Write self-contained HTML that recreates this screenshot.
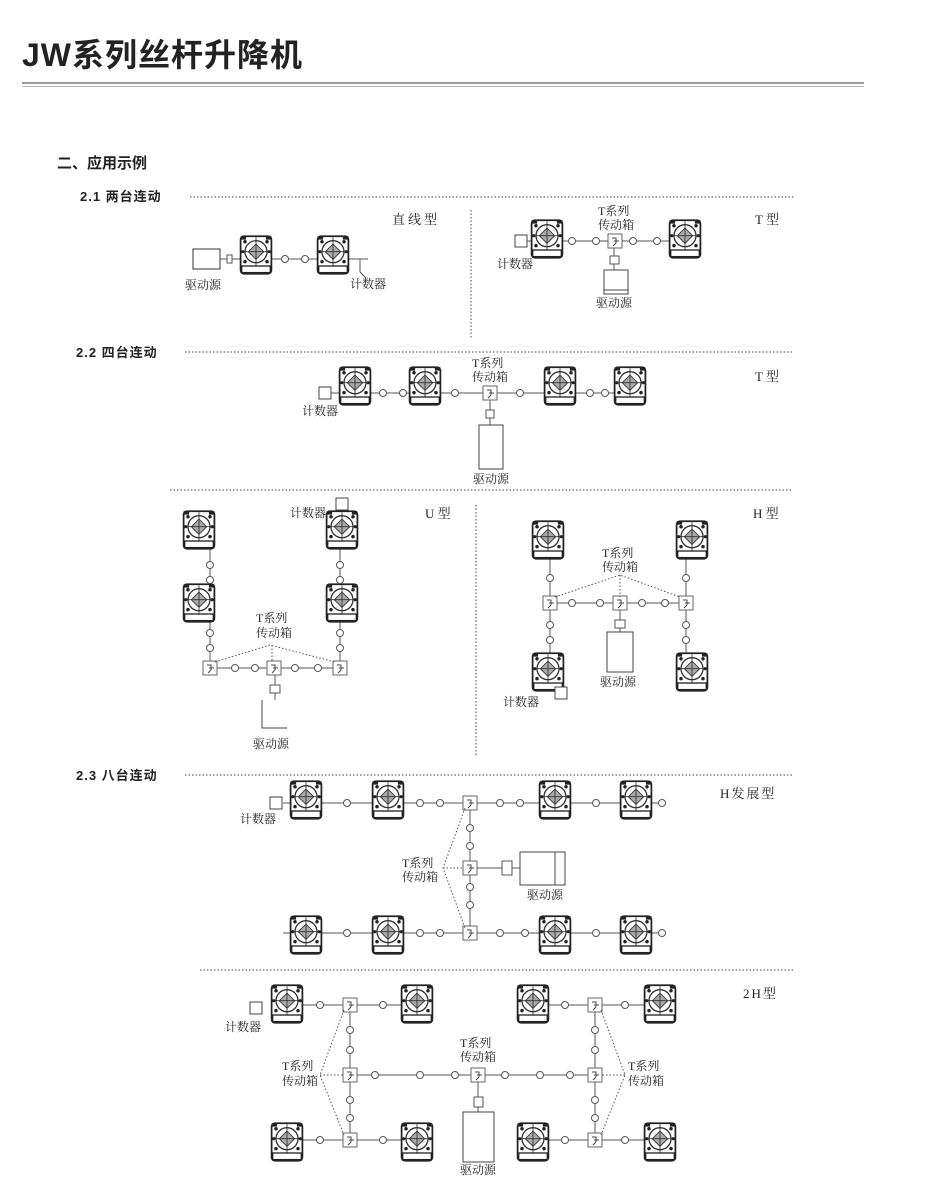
<!DOCTYPE html>
<html><head><meta charset="utf-8"><style>
html,body{margin:0;padding:0;background:#fff;}
svg text{font-family:"Liberation Serif","Noto Serif CJK SC",serif;fill:#222;}
svg .h, svg .h text{font-family:"Liberation Sans","Noto Sans CJK SC",sans-serif;font-weight:bold;}
</style></head><body>
<svg width="930" height="1183" viewBox="0 0 930 1183" xmlns="http://www.w3.org/2000/svg">
<defs>
<g id="L" transform="scale(1.1)">
<rect x="-14" y="-17" width="28" height="34" rx="3" fill="#fff" stroke="#222" stroke-width="1.6"/>
<circle cx="0" cy="-3" r="10" fill="none" stroke="#333" stroke-width="1.2"/>
<path d="M0,-10 L7,-3 L0,4 L-7,-3Z" fill="#aaa" stroke="#333" stroke-width="0.8"/>
<path d="M-13,-3 H13 M0,-16 V10" stroke="#333" stroke-width="0.8"/>
<circle cx="-10" cy="-12" r="1.6" fill="#222"/><circle cx="10" cy="-12" r="1.6" fill="#222"/>
<circle cx="-10" cy="6" r="1.6" fill="#222"/><circle cx="10" cy="6" r="1.6" fill="#222"/>
<circle cx="-12" cy="-3" r="1.4" fill="#222"/><circle cx="12" cy="-3" r="1.4" fill="#222"/>
<rect x="-13" y="10" width="26" height="6" fill="none" stroke="#222" stroke-width="1.2"/>
<path d="M-14,-17 h5 v3 h-5z M14,-17 h-5 v3 h5z" fill="#222"/>
</g>
<g id="c"><circle r="3.5" fill="#fff" stroke="#555" stroke-width="1"/></g>
<g id="B"><rect x="-7" y="-7" width="14" height="14" fill="#fff" stroke="#666" stroke-width="1"/><path d="M-3,-3 h4 v5 M1,2 l-3,3 M-1,0 h5" stroke="#444" stroke-width="1" fill="none"/></g>
<g id="K"><rect x="-6" y="-6" width="12" height="12" fill="#fff" stroke="#444" stroke-width="1"/></g>
</defs>

<text x="22" y="66" class="h" font-size="32" letter-spacing="1">JW系列丝杆升降机</text>
<rect x="22" y="82" width="842" height="2" fill="#999"/>
<rect x="22" y="86" width="842" height="1" fill="#bbb"/>
<text x="57" y="168" class="h" font-size="15">二、应用示例</text>

<g stroke="#444" stroke-width="1" stroke-dasharray="1.5,2" fill="none">
<path d="M190,197 H795"/><path d="M471,210 V338"/>
<path d="M185,352 H793"/><path d="M170,490 H793"/><path d="M476,505 V757"/>
<path d="M185,775 H793"/><path d="M200,970 H793"/>
</g>
<g class="h" font-size="13">
<text class="h" x="80" y="201" letter-spacing="1">2.1 两台连动</text>
<text class="h" x="76" y="357" letter-spacing="1">2.2 四台连动</text>
<text class="h" x="76" y="780" letter-spacing="1">2.3 八台连动</text>
</g>

<!-- 2.1 linear -->
<g stroke="#555" stroke-width="1" fill="none">
<path d="M220,259 H360 V272 M360,259 h8"/>
</g>
<rect x="193" y="249" width="27" height="20" fill="#fff" stroke="#333"/>
<rect x="227" y="255" width="5" height="8" fill="#fff" stroke="#555"/>
<use href="#L" x="256" y="255"/><use href="#L" x="333" y="255"/>
<use href="#c" x="285" y="259"/><use href="#c" x="305" y="259"/>
<path d="M360,272 l6,6" stroke="#444"/>
<text x="185" y="289" font-size="12">驱动源</text>
<text x="350" y="288" font-size="12">计数器</text>
<text x="392" y="224" font-size="13" letter-spacing="3">直线型</text>

<!-- 2.1 T -->
<path d="M527,241 H672 M614,241 V272" stroke="#555" fill="none"/>
<use href="#L" x="547" y="239"/><use href="#L" x="685" y="239"/>
<use href="#c" x="572" y="241"/><use href="#c" x="596" y="241"/><use href="#c" x="633" y="241"/><use href="#c" x="657" y="241"/>
<use href="#B" x="615" y="241"/><use href="#K" x="521" y="241"/>
<rect x="610" y="256" width="9" height="8" fill="#fff" stroke="#555"/>
<rect x="604" y="270" width="24" height="24" fill="#fff" stroke="#444"/><path d="M604,290 h24" stroke="#444"/>
<text x="598" y="215" font-size="12">T系列</text><text x="598" y="229" font-size="12">传动箱</text>
<text x="497" y="268" font-size="12">计数器</text><text x="596" y="307" font-size="12">驱动源</text>
<text x="755" y="224" font-size="13">T 型</text>

<!-- 2.2 -->
<path d="M323,393 H630 M490,393 V425" stroke="#555" fill="none"/>
<use href="#L" x="355" y="386"/><use href="#L" x="425" y="386"/><use href="#L" x="560" y="386"/><use href="#L" x="630" y="386"/>
<use href="#c" x="383" y="393"/><use href="#c" x="403" y="393"/><use href="#c" x="455" y="393"/><use href="#c" x="520" y="393"/><use href="#c" x="590" y="393"/><use href="#c" x="605" y="393"/>
<use href="#B" x="490" y="393"/><use href="#K" x="325" y="393"/>
<rect x="486" y="410" width="8" height="8" fill="#fff" stroke="#555"/>
<rect x="479" y="425" width="24" height="44" fill="#fff" stroke="#444"/>
<text x="472" y="367" font-size="12">T系列</text><text x="472" y="381" font-size="12">传动箱</text>
<text x="302" y="415" font-size="12">计数器</text><text x="473" y="483" font-size="12">驱动源</text>
<text x="755" y="381" font-size="13">T 型</text>

<!-- U -->
<path d="M210,545 V668 H340 V504 M275,668 V700" stroke="#555" fill="none"/>
<use href="#L" x="199" y="530"/><use href="#L" x="199" y="603"/><use href="#L" x="342" y="530"/><use href="#L" x="342" y="603"/>
<use href="#c" x="210" y="565"/><use href="#c" x="210" y="580"/><use href="#c" x="210" y="633"/><use href="#c" x="210" y="648"/>
<use href="#c" x="340" y="565"/><use href="#c" x="340" y="580"/><use href="#c" x="340" y="633"/><use href="#c" x="340" y="648"/>
<use href="#c" x="235" y="668"/><use href="#c" x="255" y="668"/><use href="#c" x="295" y="668"/><use href="#c" x="318" y="668"/>
<use href="#B" x="210" y="668"/><use href="#B" x="274" y="668"/><use href="#B" x="340" y="668"/><use href="#K" x="342" y="504"/>
<path d="M215,662 L270,645 L335,662 M272,645 V662" stroke="#555" stroke-dasharray="1.5,2" fill="none"/>
<rect x="270" y="685" width="10" height="8" fill="#fff" stroke="#555"/>
<path d="M262,700 V728 H287" stroke="#444" fill="none"/>
<text x="256" y="622" font-size="12">T系列</text><text x="256" y="637" font-size="12">传动箱</text>
<text x="290" y="517" font-size="12">计数器</text><text x="253" y="748" font-size="12">驱动源</text>
<text x="425" y="518" font-size="13">U 型</text>

<!-- H -->
<path d="M550,555 V660 M686,555 V660 M550,603 H686 M620,603 V632 M560,690 V686" stroke="#555" fill="none"/>
<use href="#L" x="548" y="540"/><use href="#L" x="692" y="540"/><use href="#L" x="548" y="672"/><use href="#L" x="692" y="672"/>
<use href="#c" x="550" y="578"/><use href="#c" x="550" y="625"/><use href="#c" x="550" y="640"/><use href="#c" x="686" y="578"/><use href="#c" x="686" y="625"/><use href="#c" x="686" y="640"/>
<use href="#c" x="572" y="603"/><use href="#c" x="600" y="603"/><use href="#c" x="642" y="603"/><use href="#c" x="665" y="603"/>
<use href="#B" x="550" y="603"/><use href="#B" x="620" y="603"/><use href="#B" x="686" y="603"/><use href="#K" x="561" y="693"/>
<path d="M555,597 L620,575 L680,597 M620,575 V597" stroke="#555" stroke-dasharray="1.5,2" fill="none"/>
<rect x="615" y="620" width="10" height="8" fill="#fff" stroke="#555"/>
<rect x="607" y="632" width="26" height="40" fill="#fff" stroke="#444"/>
<text x="602" y="557" font-size="12">T系列</text><text x="602" y="571" font-size="12">传动箱</text>
<text x="503" y="706" font-size="12">计数器</text><text x="600" y="686" font-size="12">驱动源</text>
<text x="753" y="518" font-size="13">H 型</text>

<!-- H develop -->
<path d="M283,803 H660 M283,933 H660 M470,803 V933 M470,868 H520" stroke="#555" fill="none"/>
<use href="#L" x="306" y="800"/><use href="#L" x="388" y="800"/><use href="#L" x="555" y="800"/><use href="#L" x="636" y="800"/>
<use href="#L" x="306" y="935"/><use href="#L" x="388" y="935"/><use href="#L" x="555" y="935"/><use href="#L" x="636" y="935"/>
<use href="#c" x="347" y="803"/><use href="#c" x="420" y="803"/><use href="#c" x="440" y="803"/><use href="#c" x="500" y="803"/><use href="#c" x="520" y="803"/><use href="#c" x="596" y="803"/><use href="#c" x="662" y="803"/>
<use href="#c" x="347" y="933"/><use href="#c" x="420" y="933"/><use href="#c" x="440" y="933"/><use href="#c" x="500" y="933"/><use href="#c" x="525" y="933"/><use href="#c" x="596" y="933"/><use href="#c" x="662" y="933"/>
<use href="#c" x="470" y="828"/><use href="#c" x="470" y="846"/><use href="#c" x="470" y="887"/><use href="#c" x="470" y="905"/>
<use href="#B" x="470" y="803"/><use href="#B" x="470" y="868"/><use href="#B" x="470" y="933"/><use href="#K" x="276" y="803"/>
<path d="M465,808 L443,868 L465,928 M443,868 H463" stroke="#555" stroke-dasharray="1.5,2" fill="none"/>
<rect x="502" y="861" width="10" height="14" fill="#fff" stroke="#555"/>
<rect x="520" y="852" width="45" height="33" fill="#fff" stroke="#444"/><path d="M555,852 V885" stroke="#444"/>
<text x="402" y="867" font-size="12">T系列</text><text x="402" y="881" font-size="12">传动箱</text>
<text x="240" y="823" font-size="12">计数器</text><text x="527" y="899" font-size="12">驱动源</text>
<text x="720" y="798" font-size="13" letter-spacing="2">H发展型</text>

<!-- 2H -->
<path d="M300,1005 H405 M300,1140 H405 M545,1005 H648 M545,1140 H648 M350,1005 V1140 M595,1005 V1140 M350,1075 H595 M478,1075 V1112" stroke="#555" fill="none"/>
<use href="#L" x="287" y="1004"/><use href="#L" x="417" y="1004"/><use href="#L" x="533" y="1004"/><use href="#L" x="660" y="1004"/>
<use href="#L" x="287" y="1142"/><use href="#L" x="417" y="1142"/><use href="#L" x="533" y="1142"/><use href="#L" x="660" y="1142"/>
<use href="#c" x="320" y="1005"/><use href="#c" x="383" y="1005"/><use href="#c" x="320" y="1140"/><use href="#c" x="383" y="1140"/>
<use href="#c" x="565" y="1005"/><use href="#c" x="625" y="1005"/><use href="#c" x="565" y="1140"/><use href="#c" x="625" y="1140"/>
<use href="#c" x="350" y="1030"/><use href="#c" x="350" y="1050"/><use href="#c" x="350" y="1100"/><use href="#c" x="350" y="1118"/>
<use href="#c" x="595" y="1030"/><use href="#c" x="595" y="1050"/><use href="#c" x="595" y="1100"/><use href="#c" x="595" y="1118"/>
<use href="#c" x="375" y="1075"/><use href="#c" x="420" y="1075"/><use href="#c" x="455" y="1075"/><use href="#c" x="505" y="1075"/><use href="#c" x="540" y="1075"/><use href="#c" x="570" y="1075"/>
<use href="#B" x="350" y="1005"/><use href="#B" x="350" y="1075"/><use href="#B" x="350" y="1140"/>
<use href="#B" x="595" y="1005"/><use href="#B" x="595" y="1075"/><use href="#B" x="595" y="1140"/><use href="#B" x="478" y="1075"/>
<use href="#K" x="256" y="1008"/>
<path d="M344,1010 L320,1075 L344,1135 M320,1075 H343 M601,1010 L625,1075 L601,1135 M625,1075 H602" stroke="#555" stroke-dasharray="1.5,2" fill="none"/>
<rect x="474" y="1097" width="9" height="10" fill="#fff" stroke="#555"/>
<rect x="463" y="1112" width="31" height="50" fill="#fff" stroke="#444"/>
<text x="282" y="1070" font-size="12">T系列</text><text x="282" y="1085" font-size="12">传动箱</text>
<text x="460" y="1047" font-size="12">T系列</text><text x="460" y="1061" font-size="12">传动箱</text>
<text x="628" y="1070" font-size="12">T系列</text><text x="628" y="1085" font-size="12">传动箱</text>
<text x="225" y="1031" font-size="12">计数器</text><text x="460" y="1174" font-size="12">驱动源</text>
<text x="743" y="998" font-size="13" letter-spacing="2">2H型</text>
</svg>
</body></html>
